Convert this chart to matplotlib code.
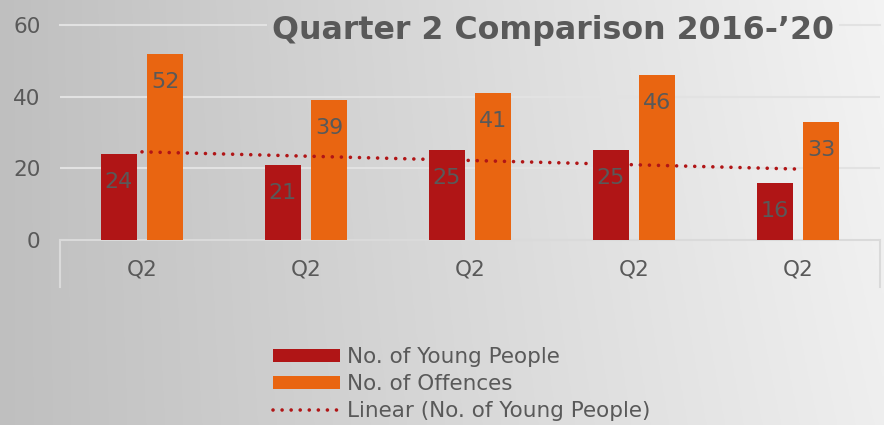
import numpy as np
import matplotlib
matplotlib.use("Agg")
import matplotlib.pyplot as plt
from matplotlib.patches import Patch
from matplotlib.lines import Line2D

categories = ["Q2", "Q2", "Q2", "Q2", "Q2"]
young_people = [24, 21, 25, 25, 16]
offences = [52, 39, 41, 46, 33]
title = "Quarter 2 Comparison 2016-\u201920"
series_names = ["No. of Young People", "No. of Offences", "Linear (No. of Young People)"]
yticks = [0, 20, 40, 60]

C_YP = "#b01516"
C_OFF = "#e96511"
TXT = "#595959"
FONT = ["DejaVu Sans"]
plt.rcParams["font.family"] = FONT

fig = plt.figure(figsize=(8.84, 4.25), dpi=100)

# background gradient
bg = fig.add_axes([0, 0, 1, 1], zorder=-10)
xx, yy = np.meshgrid(np.linspace(0, 1, 300), np.linspace(0, 1, 150))
g = 0.75 + 0.185 * xx + 0.02 * yy * xx
bg.imshow(np.dstack([g, g, g]), extent=[0, 1, 0, 1], origin="lower", aspect="auto")
bg.set_axis_off()

ax = fig.add_axes([60 / 884, 1 - 240 / 425, 820 / 884, 215 / 425])
ax.set_facecolor("none")
x = np.arange(len(categories))
w = 0.22
off = 0.143
b1 = ax.bar(x - off, young_people, w, color=C_YP, zorder=3)
b2 = ax.bar(x + off, offences, w, color=C_OFF, zorder=3)

for rect, v in zip(list(b1) + list(b2), young_people + offences):
    ax.text(rect.get_x() + rect.get_width() / 2, v - 7.8, str(v), ha="center", va="center",
            fontsize=16, color=TXT, zorder=5)

# linear trend
coef = np.polyfit(x, young_people, 1)
trend = np.polyval(coef, x)
ax.plot(x, trend, color=C_YP, lw=2.6, linestyle=(0, (0.01, 2.5)), dash_capstyle="round", zorder=4)

ax.set_xlim(-0.5, len(categories) - 0.5)
ax.set_ylim(0, 60)
ax.set_yticks(yticks)
ax.set_xticks(x)
ax.set_xticklabels(categories)
ax.tick_params(axis="both", length=0, labelsize=15.5, labelcolor=TXT)
ax.tick_params(axis="y", pad=14)
ax.tick_params(axis="x", pad=14)
for s in ["top", "right", "left"]:
    ax.spines[s].set_visible(False)
ax.spines["bottom"].set_color("#dadada")
ax.spines["bottom"].set_linewidth(1.5)

gridc = "#e2e2e2"
for yv in yticks[1:-1]:
    ax.axhline(yv, color=gridc, lw=1.5, zorder=1)
ax.axhline(yticks[-1], xmin=0, xmax=(266 - 60) / 820, color=gridc, lw=1.5, zorder=1, clip_on=False)
ax.axhline(yticks[-1], xmin=(840 - 60) / 820, xmax=1, color=gridc, lw=1.5, zorder=1, clip_on=False)

for xa in (0, 1):
    ax.plot([xa, xa], [0, -47 / 215], transform=ax.transAxes, color="#dadada", lw=1.5, clip_on=False)

fig.text(553 / 884, 1 - 31 / 425, title, ha="center", va="center", fontsize=22.8,
         fontweight="bold", color=TXT)

handles = [Patch(facecolor=C_YP), Patch(facecolor=C_OFF),
           Line2D([0], [0], color=C_YP, lw=2.6, linestyle=(0, (0.01, 2.5)), dash_capstyle="round")]
leg = fig.legend(handles, series_names, loc="upper left", bbox_to_anchor=(273 / 884, 1 - 347 / 425),
                 frameon=False, fontsize=15.5, handlelength=3.1, handleheight=0.6, handletextpad=0.35,
                 labelspacing=0.33, borderpad=0, borderaxespad=0)
for t in leg.get_texts():
    t.set_color(TXT)

fig.savefig("out.png", dpi=100)
